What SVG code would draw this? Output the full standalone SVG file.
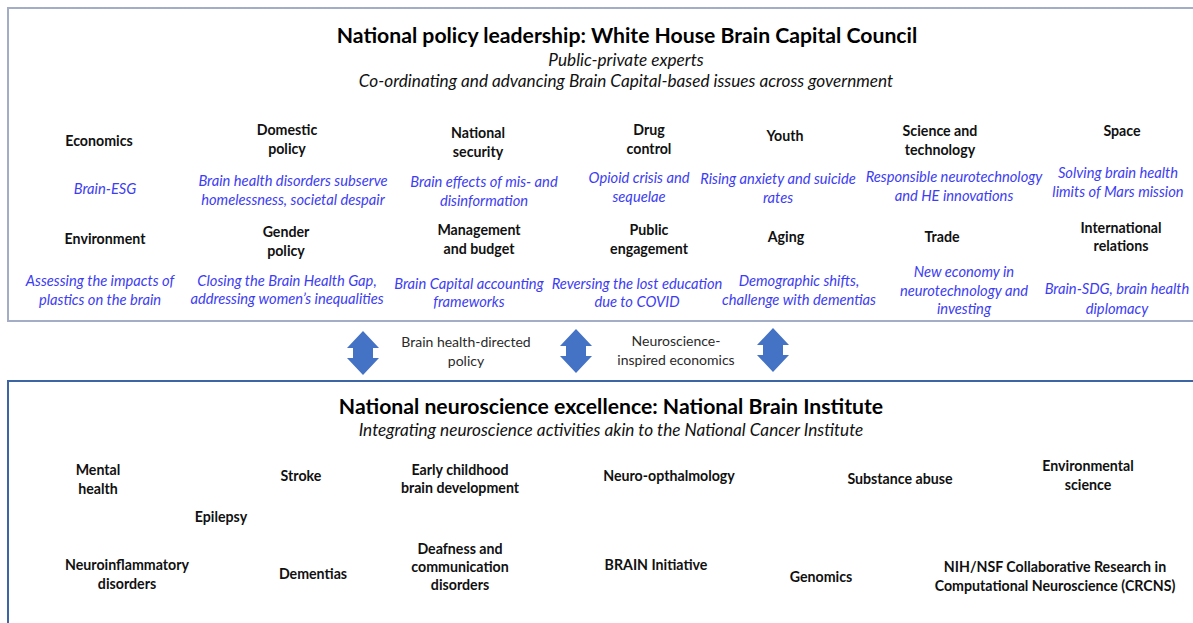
<svg xmlns="http://www.w3.org/2000/svg" width="1193" height="623" viewBox="0 0 1193 623">
  <style>
    text { font-family: Lato, "Liberation Sans", sans-serif; text-anchor: middle; }
    .title { font-size: 21.2px; font-weight: bold; fill: #000; }
    .sub { font-size: 17.2px; font-style: italic; fill: #111; }
    .head { font-size: 14.2px; font-weight: bold; fill: #111; }
    .note { font-size: 14.7px; font-style: italic; fill: #3d3df2; }
    .link { font-size: 14px; fill: #2a2a2a; }
    .panel-top { fill: #fff; stroke: #a3aec6; stroke-width: 2; }
    .panel-bot { fill: #fff; stroke: #3d64a3; stroke-width: 2; }
    .dbl { fill: #4472c4; }
  </style>
  <defs>
    <!-- vertical double-headed block arrow, centred on 0,0 -->
    <path id="updown" d="M0,-22 L16,-5 L10,-5 L10,5 L16,5 L0,22 L-16,5 L-10,5 L-10,-5 L-16,-5 Z"/>
  </defs>
  <rect width="1193" height="623" fill="#fff"/>

  <!-- Policy panel -->
  <g id="policy-panel">
    <rect class="panel-top" x="8" y="8" width="1200" height="313"/>
    <text class="title" x="627" y="43">National policy leadership: White House Brain Capital Council</text>
    <text class="sub" x="626" y="66">Public-private experts</text>
    <text class="sub" x="626" y="87">Co-ordinating and advancing Brain Capital-based issues across government</text>
  </g>

  <g id="economics">
    <text class="head" x="99" y="146">Economics</text>
    <text class="note" x="105" y="194">Brain-ESG</text>
  </g>
  <g id="domestic-policy">
    <text class="head" x="287" y="135">Domestic</text>
    <text class="head" x="287" y="154">policy</text>
    <text class="note" x="293" y="186">Brain health disorders subserve</text>
    <text class="note" x="293" y="205">homelessness, societal despair</text>
  </g>
  <g id="national-security">
    <text class="head" x="478" y="138">National</text>
    <text class="head" x="478" y="157">security</text>
    <text class="note" x="484" y="187">Brain effects of mis- and</text>
    <text class="note" x="484" y="206">disinformation</text>
  </g>
  <g id="drug-control">
    <text class="head" x="649" y="135">Drug</text>
    <text class="head" x="649" y="154">control</text>
    <text class="note" x="639" y="183">Opioid crisis and</text>
    <text class="note" x="639" y="202">sequelae</text>
  </g>
  <g id="youth">
    <text class="head" x="785" y="141">Youth</text>
    <text class="note" x="778" y="184">Rising anxiety and suicide</text>
    <text class="note" x="778" y="203">rates</text>
  </g>
  <g id="science-technology">
    <text class="head" x="940" y="136">Science and</text>
    <text class="head" x="940" y="155">technology</text>
    <text class="note" x="954" y="182">Responsible neurotechnology</text>
    <text class="note" x="954" y="201">and HE innovations</text>
  </g>
  <g id="space">
    <text class="head" x="1122" y="136">Space</text>
    <text class="note" x="1118" y="178">Solving brain health</text>
    <text class="note" x="1118" y="197">limits of Mars mission</text>
  </g>

  <g id="environment">
    <text class="head" x="105" y="244">Environment</text>
    <text class="note" x="100" y="286">Assessing the impacts of</text>
    <text class="note" x="100" y="305">plastics on the brain</text>
  </g>
  <g id="gender-policy">
    <text class="head" x="286" y="237">Gender</text>
    <text class="head" x="286" y="256">policy</text>
    <text class="note" x="287" y="286">Closing the Brain Health Gap,</text>
    <text class="note" x="287" y="304">addressing women’s inequalities</text>
  </g>
  <g id="management-budget">
    <text class="head" x="479" y="235">Management</text>
    <text class="head" x="479" y="254">and budget</text>
    <text class="note" x="469" y="289">Brain Capital accounting</text>
    <text class="note" x="469" y="307">frameworks</text>
  </g>
  <g id="public-engagement">
    <text class="head" x="649" y="235">Public</text>
    <text class="head" x="649" y="254">engagement</text>
    <text class="note" x="637" y="289">Reversing the lost education</text>
    <text class="note" x="637" y="307">due to COVID</text>
  </g>
  <g id="aging">
    <text class="head" x="786" y="242">Aging</text>
    <text class="note" x="799" y="286">Demographic shifts,</text>
    <text class="note" x="799" y="305">challenge with dementias</text>
  </g>
  <g id="trade">
    <text class="head" x="942" y="242">Trade</text>
    <text class="note" x="964" y="277">New economy in</text>
    <text class="note" x="964" y="296">neurotechnology and</text>
    <text class="note" x="964" y="314">investing</text>
  </g>
  <g id="international-relations">
    <text class="head" x="1121" y="233">International</text>
    <text class="head" x="1121" y="251">relations</text>
    <text class="note" x="1117" y="294">Brain-SDG, brain health</text>
    <text class="note" x="1117" y="314">diplomacy</text>
  </g>

  <!-- Links between the two panels -->
  <g id="connectors">
    <use href="#updown" class="dbl" x="363" y="353"/>
    <use href="#updown" class="dbl" x="576" y="351"/>
    <use href="#updown" class="dbl" x="773" y="350"/>
    <text class="link" x="466" y="347">Brain health-directed</text>
    <text class="link" x="466" y="366">policy</text>
    <text class="link" x="676" y="346">Neuroscience-</text>
    <text class="link" x="676" y="365">inspired economics</text>
  </g>

  <!-- Neuroscience panel -->
  <g id="neuroscience-panel">
    <rect class="panel-bot" x="8" y="381" width="1200" height="260"/>
    <text class="title" x="611" y="414">National neuroscience excellence: National Brain Institute</text>
    <text class="sub" x="611" y="436">Integrating neuroscience activities akin to the National Cancer Institute</text>
  </g>

  <g id="mental-health">
    <text class="head" x="98" y="475">Mental</text>
    <text class="head" x="98" y="494">health</text>
  </g>
  <g id="stroke"><text class="head" x="301" y="481">Stroke</text></g>
  <g id="early-childhood">
    <text class="head" x="460" y="475">Early childhood</text>
    <text class="head" x="460" y="493">brain development</text>
  </g>
  <g id="neuro-opthalmology"><text class="head" x="669" y="481">Neuro-opthalmology</text></g>
  <g id="substance-abuse"><text class="head" x="900" y="484">Substance abuse</text></g>
  <g id="environmental-science">
    <text class="head" x="1088" y="471">Environmental</text>
    <text class="head" x="1088" y="490">science</text>
  </g>
  <g id="epilepsy"><text class="head" x="221" y="522">Epilepsy</text></g>
  <g id="neuroinflammatory">
    <text class="head" x="127" y="570">Neuroinflammatory</text>
    <text class="head" x="127" y="589">disorders</text>
  </g>
  <g id="dementias"><text class="head" x="313" y="579">Dementias</text></g>
  <g id="deafness">
    <text class="head" x="460" y="554">Deafness and</text>
    <text class="head" x="460" y="572">communication</text>
    <text class="head" x="460" y="590">disorders</text>
  </g>
  <g id="brain-initiative"><text class="head" x="656" y="570">BRAIN Initiative</text></g>
  <g id="genomics"><text class="head" x="821" y="582">Genomics</text></g>
  <g id="crcns">
    <text class="head" x="1055" y="572">NIH/NSF Collaborative Research in</text>
    <text class="head" x="1055" y="591">Computational Neuroscience (CRCNS)</text>
  </g>
</svg>
